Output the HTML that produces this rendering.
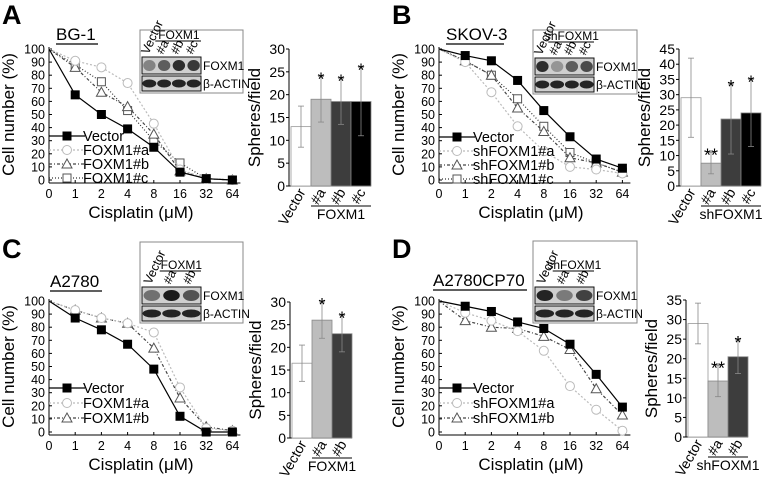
<!DOCTYPE html>
<html><head><meta charset="utf-8"><style>
html,body{margin:0;padding:0;background:#fff}
svg{display:block;font-family:"Liberation Sans",Arial,sans-serif}
</style></head><body>
<svg id="fig" width="779" height="482" viewBox="0 0 779 482" xmlns="http://www.w3.org/2000/svg"></svg>
<script>
const doses = ["0","1","2","4","8","16","32","64"];
// Panel A
const aVector = [100,65,50,39,25,6,1,0];
const aFoxA = [100,91,86,74,43,8,1,0];
const aFoxB = [100,86,67,56,35,7,1,0];
const aFoxC = [100,88,75,53,30,13,1,0];
const aBarCats = ["Vector","#a","#b","#c"];
const aBarVals = [13,19,18.5,18.5];
const aBarErr = [4.5,5,5,7.5];
const aStars = ["","*","*","*"];
// Panel B
const bVector = [100,95,91,76,53,33,16,9];
const bShA = [100,90,67,41,22,10,8,5];
const bShB = [100,91,80,55,37,17,13,6];
const bShC = [100,91,80,62,41,21,13,6];
const bBarCats = ["Vector","#a","#b","#c"];
const bBarVals = [29,7.5,22,24];
const bBarErr = [13,3.5,11.5,11];
const bStars = ["","**","*","*"];
// Panel C
const cVector = [100,87,78,67,48,12,0,0];
const cFoxA = [100,93,87,83,76,34,3,1];
const cFoxB = [100,93,87,83,64,26,4,1];
const cBarCats = ["Vector","#a","#b"];
const cBarVals = [16.5,26,23];
const cBarErr = [4,4,4];
const cStars = ["","*","*"];
// Panel D
const dVector = [100,96,92,84,79,67,44,19];
const dShA = [100,91,85,77,62,35,17,1];
const dShB = [100,85,80,79,73,63,33,13];
const dBarCats = ["Vector","#a","#b"];
const dBarVals = [29,14.3,20.5];
const dBarErr = [5.2,4,4.3];
const dStars = ["","**","*"];

const NS="http://www.w3.org/2000/svg";
const svg=document.getElementById('fig');
function mk(tag,attrs,parent,text){const e=document.createElementNS(NS,tag);for(const k in attrs)e.setAttribute(k,attrs[k]);if(text!==undefined)e.textContent=text;(parent||svg).appendChild(e);return e;}

const styles={
 vector:{stroke:"#000",dash:"",marker:"sq",fill:"#000",mstroke:"#000"},
 a:{stroke:"#bbb",dash:"2,2",marker:"ci",fill:"#fff",mstroke:"#bbb"},
 b:{stroke:"#444",dash:"3,2,1,2",marker:"tr",fill:"#fff",mstroke:"#555"},
 c:{stroke:"#333",dash:"1,2",marker:"sq",fill:"#fff",mstroke:"#555"}
};
function marker(g,kind,x,y,st,name){
 let m;
 if(kind==="sq") m=mk('rect',{x:x-4,y:y-4,width:8,height:8,fill:st.fill,stroke:st.mstroke,'stroke-width':1},g);
 else if(kind==="ci") m=mk('circle',{cx:x,cy:y,r:4.5,fill:st.fill,stroke:st.mstroke,'stroke-width':1},g);
 else m=mk('polygon',{points:`${x},${y-5} ${x-5},${y+4} ${x+5},${y+4}`,fill:st.fill,stroke:st.mstroke,'stroke-width':1},g);
 
 
}

function panel(c){
 const g=mk('g',{},svg);
 
 
 const L=mk('text',{x:c.lx,y:c.ly,'font-size':27,'font-weight':'bold'},g,c.letter);
 
 const cl=mk('text',{x:c.cx,y:c.cy,'font-size':17},g,c.cell);
 
 mk('line',{x1:c.cx,x2:c.cx2,y1:c.cy+4,y2:c.cy+4,stroke:'#000','stroke-width':1.3},g);

 // line chart
 const x0=c.x0, step=26.2, yB=c.yB, yT=c.yT;
 const X=i=>x0+i*step, Y=v=>yB-(v/100)*(yB-yT);
 const ax=mk('g',{},g);
 mk('line',{x1:x0,x2:X(7)+8,y1:yB+3,y2:yB+3,stroke:'#000'},ax);
 mk('line',{x1:x0,x2:x0,y1:yB+3,y2:yT-2,stroke:'#000'},ax);
 for(let v=0;v<=100;v+=10){mk('line',{x1:x0,x2:x0+3,y1:Y(v),y2:Y(v),stroke:'#000'},ax);
  const t=mk('text',{x:x0-4,y:Y(v)+4.5,'font-size':12.5,'text-anchor':'end'},ax,String(v));
  }
 doses.forEach((d,i)=>{mk('line',{x1:X(i),x2:X(i),y1:yB+3,y2:yB,stroke:'#000'},ax);
  const t=mk('text',{x:X(i),y:yB+18,'font-size':12.5,'text-anchor':'middle'},ax,d);
  });
 const xt=mk('text',{x:x0+92,y:yB+38,'font-size':17,'text-anchor':'middle'},ax,'Cisplatin (\u03bcM)');
 
 const yc=(yB+yT)/2;
 const yt=mk('text',{x:c.x0-35,y:yc,'font-size':17,'text-anchor':'middle',transform:`rotate(-90 ${c.x0-35} ${yc})`},ax,'Cell number (%)');
 

 c.series.slice().reverse().forEach(s=>{
  const st=styles[s.style];
  const sg=mk('g',{},g);
  const pts=s.data.map((v,i)=>X(i)+','+Y(v)).join(' ');
  mk('polyline',{points:pts,fill:'none',stroke:st.stroke,'stroke-width':1.2,'stroke-dasharray':st.dash},sg);
  s.data.forEach((v,i)=>{ if(i>0) marker(sg,st.marker,X(i),Y(v),st,'point'); });
 });
 // legend
 c.series.forEach((s,k)=>{
  const st=styles[s.style];const ly=c.legY+k*c.legStep;
  const lg=mk('g',{},g);
  mk('line',{x1:x0,x2:x0+36,y1:ly,y2:ly,stroke:st.stroke,'stroke-width':1.2,'stroke-dasharray':st.dash},lg);
  marker(lg,st.marker,x0+18,ly,st,'legend-marker');
  mk('text',{x:x0+34,y:ly+5,'font-size':14.5},lg,s.label);
 });

 // blot
 const b=c.blot;
 const bg=mk('g',{},g);
 mk('rect',{x:b.x,y:b.y,width:b.w,height:b.h,fill:'#fff',stroke:'#888'},bg);
 const sw=b.stripW, n=c.lanes.length, lw=sw/n;
 const s2=b.y+b.h-17, s1=s2-19;
 mk('rect',{x:b.x+2,y:s1,width:sw,height:17,fill:'#cfcfcf',stroke:'#111'},bg);
 mk('rect',{x:b.x+2,y:s2,width:sw,height:15,fill:'#cfcfcf',stroke:'#111'},bg);
 c.lanes.forEach((ln,i)=>{
  const cx=b.x+2+lw*(i+0.5);
  mk('ellipse',{cx:cx,cy:s1+8.5,rx:lw*0.42,ry:5.5,fill:'#111',opacity:c.bands[i]},bg);
  mk('ellipse',{cx:cx,cy:s2+7.5,rx:lw*0.47,ry:4,fill:'#111',opacity:0.9},bg);
  const lx=cx-1, ly=s1-2;
  const t=mk('text',{x:lx,y:ly,'font-size':12.5,'text-anchor':'start',transform:`rotate(-65 ${lx} ${ly})`},bg,ln);
  
 });
 const gy=s1-16;
 mk('line',{x1:b.x+2+lw*0.9,x2:b.x+2+sw,y1:gy,y2:gy,stroke:'#000'},bg);
 mk('text',{x:b.x+2+lw*(1+(n-1)/2),y:gy-2,'font-size':12,'text-anchor':'middle'},bg,c.group);
 mk('text',{x:b.x+sw+4,y:s1+13,'font-size':12},bg,'FOXM1');
 mk('text',{x:b.x+sw+4,y:s2+12,'font-size':12},bg,'\u03b2-ACTIN');

 // bar chart
 const bx=c.bx, by0=c.by0, byT=c.byT, mx=c.bmax, bw=20;
 const BY=v=>by0-(v/mx)*(by0-byT);
 const bax=mk('g',{},g);
 const nb=c.barVals.length, right=bx+2+nb*bw;
 mk('line',{x1:bx,x2:right,y1:by0,y2:by0,stroke:'#000'},bax);
 mk('line',{x1:bx,x2:bx,y1:by0,y2:byT,stroke:'#000'},bax);
 for(let v=0;v<=mx;v+=5){mk('line',{x1:bx,x2:bx-3,y1:BY(v),y2:BY(v),stroke:'#000'},bax);
  const t=mk('text',{x:bx-4,y:BY(v)+5,'font-size':14,'text-anchor':'end'},bax,String(v));
  }
 const byc=(by0+byT)/2, ytx=bx-29;
 const bt=mk('text',{x:ytx,y:byc,'font-size':17,'text-anchor':'middle',transform:`rotate(-90 ${ytx} ${byc})`},bax,'Spheres/field');
 
 const fills=['#fff','#bdbdbd','#3d3d3d','#000'];
 c.barVals.forEach((v,i)=>{
  const x=bx+2+i*bw;
  const r=mk('rect',{x:x,y:BY(v),width:bw,height:by0-BY(v),fill:fills[i],stroke:i===0?'#999':'#888','stroke-width':0.8},g);
  
  const e=c.barErr[i], cx=x+bw/2;
  mk('line',{x1:cx,x2:cx,y1:BY(v+e),y2:BY(Math.max(0,v-e)),stroke:'#888','stroke-width':0.8},g);
  mk('line',{x1:cx-3,x2:cx+3,y1:BY(v+e),y2:BY(v+e),stroke:'#888','stroke-width':0.8},g);
  mk('line',{x1:cx-3,x2:cx+3,y1:BY(v-e),y2:BY(v-e),stroke:'#888','stroke-width':0.8},g);
  if(c.stars[i]){const s=mk('text',{x:cx,y:BY(v+e)+9,'font-size':18,'text-anchor':'middle'},g,c.stars[i]);
   }
  const lx=cx+5, ly=by0+6;
  const t=mk('text',{x:lx,y:ly,'font-size':14,'text-anchor':'end',transform:`rotate(-60 ${lx} ${ly})`},g,c.barCats[i]);
  
 });
 mk('line',{x1:bx+2+bw,x2:right,y1:by0+20,y2:by0+20,stroke:'#000'},g);
 const gl=mk('text',{x:(bx+2+bw+right)/2,y:by0+33,'font-size':14,'text-anchor':'middle'},g,c.group);
 
}

panel({id:'a',letter:'A',lx:2,ly:24,cell:'BG-1',cx:56,cy:40,cx2:98,x0:49,yB:180,yT:49,
 series:[{label:'Vector',style:'vector',data:aVector},{label:'FOXM1#a',style:'a',data:aFoxA},{label:'FOXM1#b',style:'b',data:aFoxB},{label:'FOXM1#c',style:'c',data:aFoxC}],
 legY:136,legStep:14,blot:{x:140,y:30,w:103,h:63,stripW:59},lanes:['Vector','#a','#b','#c'],bands:[0.4,0.6,0.85,0.8],group:'FOXM1',
 bx:289,by0:186,byT:49,bmax:30,barCats:aBarCats,barVals:aBarVals,barErr:aBarErr,stars:aStars});
panel({id:'b',letter:'B',lx:392,ly:24,cell:'SKOV-3',cx:446,cy:40,cx2:504,x0:439,yB:180,yT:49,
 series:[{label:'Vector',style:'vector',data:bVector},{label:'shFOXM1#a',style:'a',data:bShA},{label:'shFOXM1#b',style:'b',data:bShB},{label:'shFOXM1#c',style:'c',data:bShC}],
 legY:137,legStep:14,blot:{x:533,y:30,w:104,h:64,stripW:59},lanes:['Vector','#a','#b','#c'],bands:[0.85,0.3,0.6,0.7],group:'shFOXM1',
 bx:679,by0:186,byT:49,bmax:45,barCats:bBarCats,barVals:bBarVals,barErr:bBarErr,stars:bStars});
panel({id:'c',letter:'C',lx:2,ly:258,cell:'A2780',cx:50,cy:287,cx2:102,x0:49,yB:432,yT:301,
 series:[{label:'Vector',style:'vector',data:cVector},{label:'FOXM1#a',style:'a',data:cFoxA},{label:'FOXM1#b',style:'b',data:cFoxB}],
 legY:388,legStep:15,blot:{x:140,y:242,w:103,h:81,stripW:59},lanes:['Vector','#a','#b'],bands:[0.5,0.95,0.65],group:'FOXM1',
 bx:290,by0:438,byT:302,bmax:30,barCats:cBarCats,barVals:cBarVals,barErr:cBarErr,stars:cStars});
panel({id:'d',letter:'D',lx:392,ly:258,cell:'A2780CP70',cx:433,cy:286,cx2:527,x0:439,yB:432,yT:301,
 series:[{label:'Vector',style:'vector',data:dVector},{label:'shFOXM1#a',style:'a',data:dShA},{label:'shFOXM1#b',style:'b',data:dShB}],
 legY:388,legStep:15,blot:{x:533,y:241,w:104,h:82,stripW:59},lanes:['Vector','#a','#b'],bands:[0.9,0.45,0.75],group:'shFOXM1',
 bx:686,by0:437,byT:300,bmax:35,barCats:dBarCats,barVals:dBarVals,barErr:dBarErr,stars:dStars});
</script>
</body></html>
